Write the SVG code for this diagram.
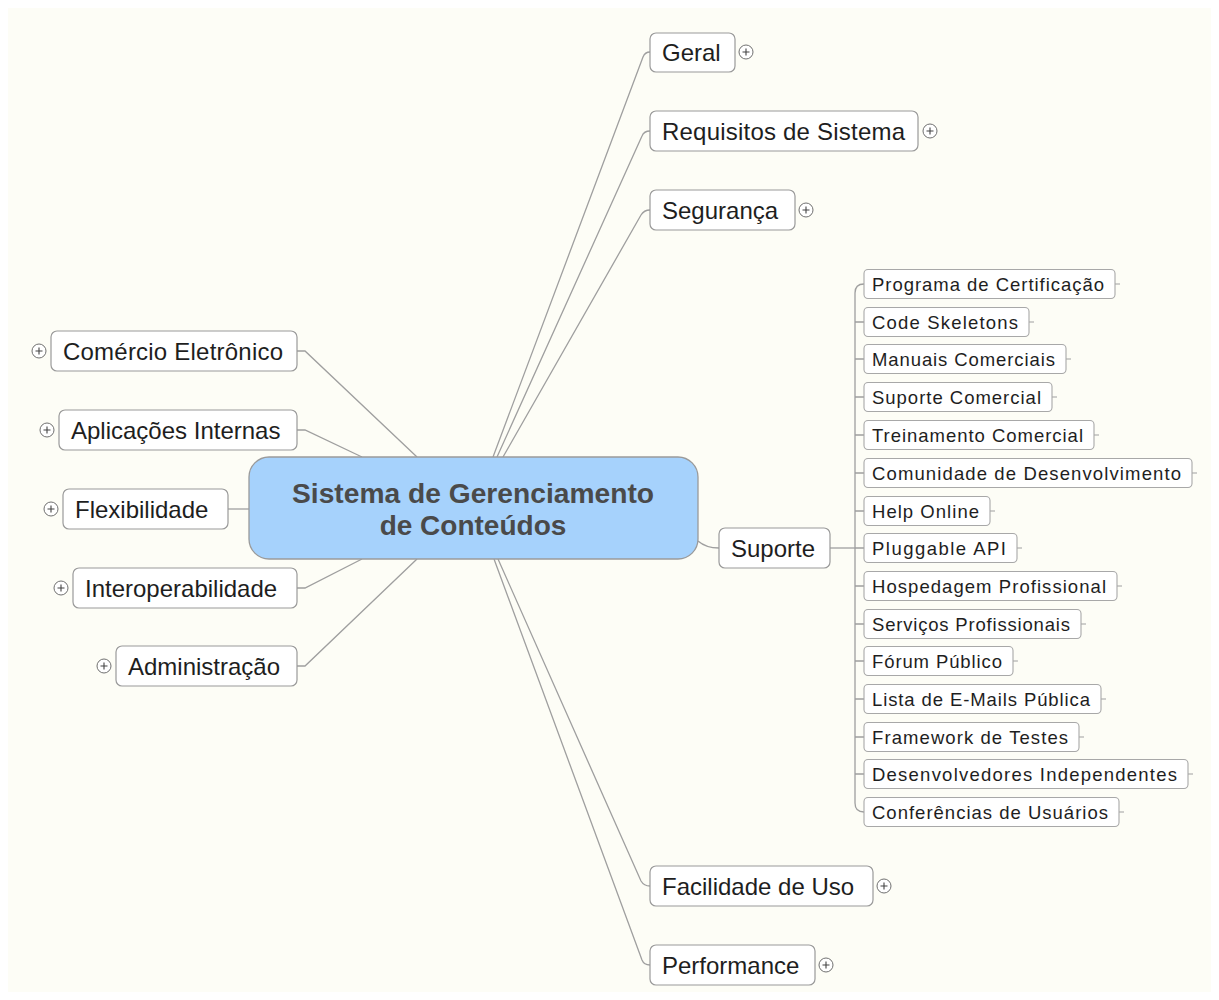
<svg xmlns="http://www.w3.org/2000/svg" width="1219" height="1000" viewBox="0 0 1219 1000">
  <style>
    .conn { fill: none; stroke: #9f9f9f; stroke-width: 1.3; }
    .topic rect { fill: #ffffff; stroke: #9a9a9a; stroke-width: 1.2; }
    .topic text { font-family: "Liberation Sans", Arial, sans-serif; font-size: 24px; fill: #1e1e1e; }
    .sub rect { fill: #ffffff; stroke: #a8a8a8; stroke-width: 1.1; }
    .sub text { font-family: "Liberation Sans", Arial, sans-serif; font-size: 18.5px; fill: #1e1e1e; }
    .stub { stroke: #a8a8a8; stroke-width: 1.1; }
    .plus circle { fill: #ffffff; stroke: #707070; stroke-width: 1; }
    .plus path { stroke: #444; stroke-width: 1.1; }
    .central rect { fill: #a6d2fc; stroke: #9a9a9a; stroke-width: 1.3; }
    .central text { font-family: "Liberation Sans", Arial, sans-serif; font-size: 28px; font-weight: bold; fill: #4a4a4a; text-anchor: middle; }
  </style>
  <defs>
    <g id="plus-sign" class="plus">
      <circle cx="0" cy="0" r="7"/>
      <path d="M -3.5 0 H 3.5 M 0 -3.5 V 3.5"/>
    </g>
  </defs>

  <rect x="0" y="0" width="1219" height="1000" fill="#ffffff"/>
  <rect x="8" y="8" width="1203" height="984" fill="#fdfdf6"/>

  <!-- connectors -->
  <g id="connectors">
    <!-- right side, upper -->
    <path class="conn" d="M 493 457 L 643 57 Q 645 52 650 52"/>
    <path class="conn" d="M 497 457 L 642 136 Q 644 131 650 131"/>
    <path class="conn" d="M 503 457 L 641 215 Q 644 210 650 210"/>
    <!-- right side, lower -->
    <path class="conn" d="M 498 559 L 641 881 Q 644 886 650 886"/>
    <path class="conn" d="M 494 559 L 642 960 Q 644 965 650 965"/>
    <!-- Suporte -->
    <path class="conn" d="M 698 541 Q 706 548 719 548"/>
    <!-- left side -->
    <path class="conn" d="M 297 351 H 305 L 417 457"/>
    <path class="conn" d="M 297 430 H 305 L 362 457"/>
    <path class="conn" d="M 228 509 H 249"/>
    <path class="conn" d="M 297 588 H 305 L 362 559"/>
    <path class="conn" d="M 297 666 H 305 L 417 559"/>
    <!-- Suporte children trunk -->
    <path class="conn" d="M 830 548 H 855"/>
    <path class="conn" d="M 864 284 Q 855 284 855 293 V 803 Q 855 812 864 812"/>
    <path class="conn" d="M 855 322 H 864 M 855 359 H 864 M 855 397 H 864 M 855 435 H 864 M 855 473 H 864 M 855 511 H 864 M 855 548 H 864 M 855 586 H 864 M 855 624 H 864 M 855 661 H 864 M 855 699 H 864 M 855 737 H 864 M 855 774 H 864"/>
  </g>

  <!-- central topic -->
  <g id="central" class="central">
    <rect x="249" y="457" width="449" height="102" rx="20"/>
    <text x="473" y="503" textLength="362" lengthAdjust="spacingAndGlyphs">Sistema de Gerenciamento</text>
    <text x="473" y="535">de Conteúdos</text>
  </g>

  <!-- right main topics -->
  <g id="geral" class="topic">
    <rect x="650" y="33" width="85" height="39" rx="6"/>
    <text x="662" y="61">Geral</text>
    <use href="#plus-sign" x="746" y="52"/>
  </g>
  <g id="requisitos" class="topic">
    <rect x="650" y="111" width="268" height="40" rx="6"/>
    <text x="662" y="140" textLength="243">Requisitos de Sistema</text>
    <use href="#plus-sign" x="930" y="131"/>
  </g>
  <g id="seguranca" class="topic">
    <rect x="650" y="190" width="145" height="40" rx="6"/>
    <text x="662" y="219">Segurança</text>
    <use href="#plus-sign" x="806" y="210"/>
  </g>
  <g id="suporte" class="topic">
    <rect x="719" y="528" width="111" height="40" rx="6"/>
    <text x="731" y="557">Suporte</text>
  </g>
  <g id="facilidade" class="topic">
    <rect x="650" y="866" width="223" height="40" rx="6"/>
    <text x="662" y="895">Facilidade de Uso</text>
    <use href="#plus-sign" x="884" y="886"/>
  </g>
  <g id="performance" class="topic">
    <rect x="650" y="945" width="165" height="40" rx="6"/>
    <text x="662" y="974">Performance</text>
    <use href="#plus-sign" x="826" y="965"/>
  </g>

  <!-- left main topics -->
  <g id="comercio" class="topic">
    <rect x="51" y="331" width="246" height="40" rx="6"/>
    <text x="63" y="360" textLength="220">Comércio Eletrônico</text>
    <use href="#plus-sign" x="39" y="351"/>
  </g>
  <g id="aplicacoes" class="topic">
    <rect x="59" y="410" width="238" height="40" rx="6"/>
    <text x="71" y="439">Aplicações Internas</text>
    <use href="#plus-sign" x="47" y="430"/>
  </g>
  <g id="flexibilidade" class="topic">
    <rect x="63" y="489" width="165" height="40" rx="6"/>
    <text x="75" y="518">Flexibilidade</text>
    <use href="#plus-sign" x="51" y="509"/>
  </g>
  <g id="interoperabilidade" class="topic">
    <rect x="73" y="568" width="224" height="40" rx="6"/>
    <text x="85" y="597">Interoperabilidade</text>
    <use href="#plus-sign" x="61" y="588"/>
  </g>
  <g id="administracao" class="topic">
    <rect x="116" y="646" width="181" height="40" rx="6"/>
    <text x="128" y="675">Administração</text>
    <use href="#plus-sign" x="104" y="666"/>
  </g>

  <!-- Suporte subtopics -->
  <g id="sub-programa" class="sub">
    <rect x="864" y="269.5" width="251" height="29" rx="4"/>
    <line class="stub" x1="1115" y1="284" x2="1120" y2="284"/>
    <text x="872" y="291" textLength="232">Programa de Certificação</text>
  </g>
  <g id="sub-code" class="sub">
    <rect x="864" y="307.5" width="165" height="29" rx="4"/>
    <line class="stub" x1="1029" y1="322" x2="1034" y2="322"/>
    <text x="872" y="329" textLength="146">Code Skeletons</text>
  </g>
  <g id="sub-manuais" class="sub">
    <rect x="864" y="344.5" width="202" height="29" rx="4"/>
    <line class="stub" x1="1066" y1="359" x2="1071" y2="359"/>
    <text x="872" y="366" textLength="183">Manuais Comerciais</text>
  </g>
  <g id="sub-suporte-comercial" class="sub">
    <rect x="864" y="382.5" width="188" height="29" rx="4"/>
    <line class="stub" x1="1052" y1="397" x2="1057" y2="397"/>
    <text x="872" y="404" textLength="169">Suporte Comercial</text>
  </g>
  <g id="sub-treinamento" class="sub">
    <rect x="864" y="420.5" width="230" height="29" rx="4"/>
    <line class="stub" x1="1094" y1="435" x2="1099" y2="435"/>
    <text x="872" y="442" textLength="211">Treinamento Comercial</text>
  </g>
  <g id="sub-comunidade" class="sub">
    <rect x="864" y="458.5" width="328" height="29" rx="4"/>
    <line class="stub" x1="1192" y1="473" x2="1197" y2="473"/>
    <text x="872" y="480" textLength="309">Comunidade de Desenvolvimento</text>
  </g>
  <g id="sub-help" class="sub">
    <rect x="864" y="496.5" width="126" height="29" rx="4"/>
    <line class="stub" x1="990" y1="511" x2="995" y2="511"/>
    <text x="872" y="518" textLength="107">Help Online</text>
  </g>
  <g id="sub-pluggable" class="sub">
    <rect x="864" y="533.5" width="153" height="29" rx="4"/>
    <line class="stub" x1="1017" y1="548" x2="1022" y2="548"/>
    <text x="872" y="555" textLength="134">Pluggable API</text>
  </g>
  <g id="sub-hospedagem" class="sub">
    <rect x="864" y="571.5" width="253" height="29" rx="4"/>
    <line class="stub" x1="1117" y1="586" x2="1122" y2="586"/>
    <text x="872" y="593" textLength="234">Hospedagem Profissional</text>
  </g>
  <g id="sub-servicos" class="sub">
    <rect x="864" y="609.5" width="217" height="29" rx="4"/>
    <line class="stub" x1="1081" y1="624" x2="1086" y2="624"/>
    <text x="872" y="631" textLength="198">Serviços Profissionais</text>
  </g>
  <g id="sub-forum" class="sub">
    <rect x="864" y="646.5" width="149" height="29" rx="4"/>
    <line class="stub" x1="1013" y1="661" x2="1018" y2="661"/>
    <text x="872" y="668" textLength="130">Fórum Público</text>
  </g>
  <g id="sub-lista" class="sub">
    <rect x="864" y="684.5" width="237" height="29" rx="4"/>
    <line class="stub" x1="1101" y1="699" x2="1106" y2="699"/>
    <text x="872" y="706" textLength="218">Lista de E-Mails Pública</text>
  </g>
  <g id="sub-framework" class="sub">
    <rect x="864" y="722.5" width="215" height="29" rx="4"/>
    <line class="stub" x1="1079" y1="737" x2="1084" y2="737"/>
    <text x="872" y="744" textLength="196">Framework de Testes</text>
  </g>
  <g id="sub-desenvolvedores" class="sub">
    <rect x="864" y="759.5" width="324" height="29" rx="4"/>
    <line class="stub" x1="1188" y1="774" x2="1193" y2="774"/>
    <text x="872" y="781" textLength="305">Desenvolvedores Independentes</text>
  </g>
  <g id="sub-conferencias" class="sub">
    <rect x="864" y="797.5" width="255" height="29" rx="4"/>
    <line class="stub" x1="1119" y1="812" x2="1124" y2="812"/>
    <text x="872" y="819" textLength="236">Conferências de Usuários</text>
  </g>
</svg>
